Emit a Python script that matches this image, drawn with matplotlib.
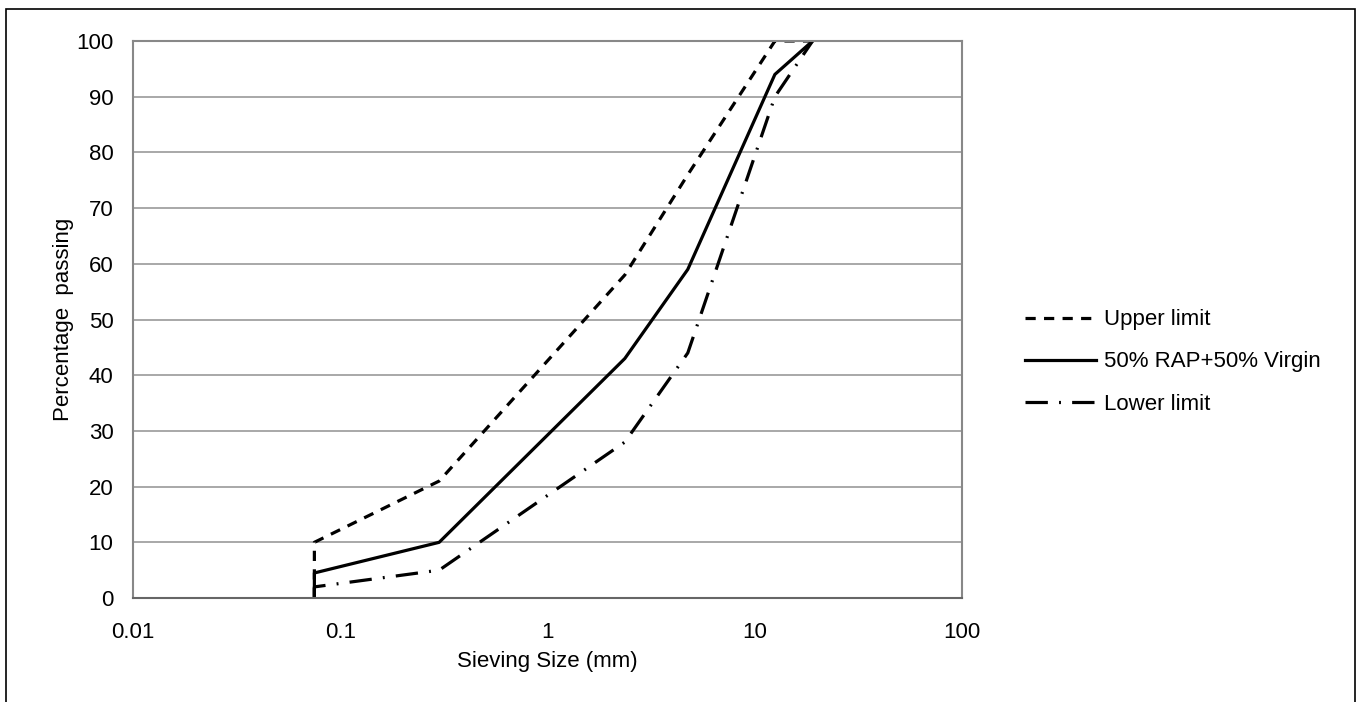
import matplotlib
matplotlib.use('Agg')
import matplotlib.pyplot as plt
from matplotlib.patches import Rectangle

plt.rcParams['font.family'] = ['Liberation Sans', 'DejaVu Sans']

# sieve sizes (mm) and percentage passing
sieve_upper = [0.075, 0.075, 0.3, 2.36, 4.75, 12.5, 19]
upper = [0, 10, 21, 58, 76, 100, 100]

sieve_mix = [0.075, 0.075, 0.3, 2.36, 4.75, 12.5, 19]
mix = [0, 4.5, 10, 43, 59, 94, 100]

sieve_lower = [0.075, 0.075, 0.3, 2.36, 4.75, 12.5, 19]
lower = [0, 2, 5, 28, 44, 90, 100]

fig = plt.figure(figsize=(13.6, 7.02), dpi=100)
ax = fig.add_axes([0.0978, 0.1481, 0.6096, 0.7935])

ax.plot(sieve_upper, upper, color='black', lw=2.3, dashes=(3.2, 2.6), label='Upper limit')
ax.plot(sieve_mix, mix, color='black', lw=2.3, label='50% RAP+50% Virgin')
ax.plot(sieve_lower, lower, color='black', lw=2.3, dashes=(7, 3.5, 0.6, 3.5), label='Lower limit')

ax.set_xscale('log')
ax.set_xlim(0.01, 100)
ax.set_ylim(0, 100)
ax.set_xticks([0.01, 0.1, 1, 10, 100])
ax.set_xticklabels(['0.01', '0.1', '1', '10', '100'])
ax.minorticks_off()
ax.set_yticks(range(0, 101, 10))
ax.tick_params(axis='x', length=0, labelsize=16, pad=17)
ax.tick_params(axis='y', length=0, labelsize=16, pad=14)
ax.yaxis.grid(True, color='#999999', lw=1.2)
ax.set_axisbelow(True)
for s in ax.spines.values():
    s.set_color('#888888')
    s.set_linewidth(1.5)
ax.spines['bottom'].set_color('#666666')

ax.set_xlabel('Sieving Size (mm)', fontsize=16, labelpad=6)
ax.set_ylabel('Percentage  passing', fontsize=16, labelpad=2)

fig.legend(loc='center left', bbox_to_anchor=(1025 / 1360, 1 - 362 / 702), frameon=False,
           fontsize=16, handlelength=3.2, labelspacing=0.95, handletextpad=0.35,
           borderpad=0, borderaxespad=0)

# outer chart border
fig.patches.append(Rectangle((6 / 1360, -0.05), 1349 / 1360, 1 - 9 / 702 + 0.05,
                             transform=fig.transFigure, fill=False,
                             edgecolor='black', lw=1.2))

fig.savefig('out.png', dpi=100)
